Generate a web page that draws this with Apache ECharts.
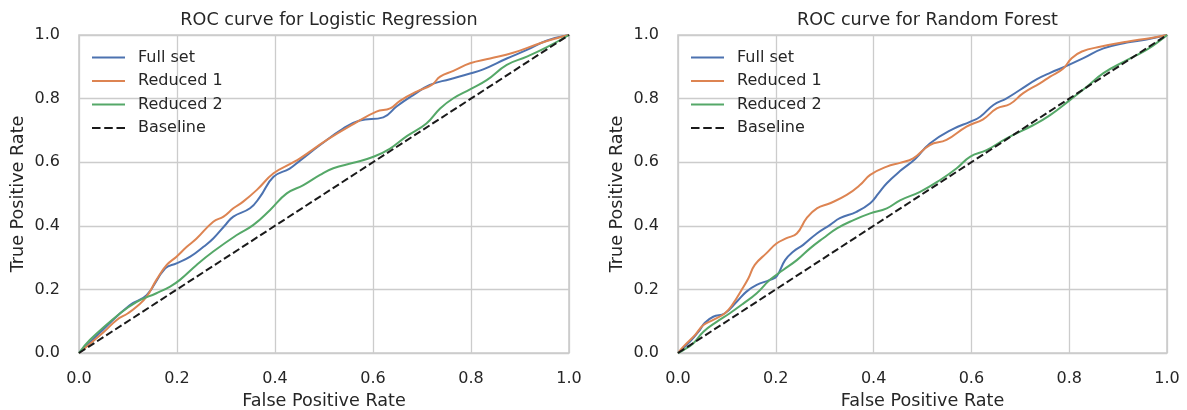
<!DOCTYPE html>
<html>
<head>
<meta charset="utf-8">
<script src="https://cdn.jsdelivr.net/npm/echarts@6/dist/echarts.min.js"></script>
<style>
  html, body { margin: 0; padding: 0; background: #ffffff; }
  #chart { width: 1187px; height: 410px; }
</style>
</head>
<body>
<div id="chart"></div>
<script>
// ---- Data (FPR, TPR pairs) ----
const titles = ['ROC curve for Logistic Regression', 'ROC curve for Random Forest'];
const seriesNames = ['Full set', 'Reduced 1', 'Reduced 2', 'Baseline'];
const xTicks = [0, 0.2, 0.4, 0.6, 0.8, 1.0];

const lrFull = [[0,0],[0.05,0.075],[0.104,0.151],[0.138,0.182],[0.176,0.266],[0.199,0.282],[0.227,0.303],[0.254,0.334],[0.274,0.36],[0.30,0.405],[0.315,0.429],[0.349,0.455],[0.369,0.49],[0.397,0.554],[0.43,0.58],[0.451,0.605],[0.492,0.654],[0.539,0.706],[0.573,0.731],[0.621,0.741],[0.648,0.775],[0.682,0.811],[0.716,0.843],[0.757,0.861],[0.798,0.879],[0.825,0.892],[0.873,0.926],[0.914,0.953],[0.954,0.982],[1,1]];
const lrRed1 = [[0,0],[0.05,0.065],[0.077,0.104],[0.10,0.125],[0.118,0.146],[0.138,0.177],[0.158,0.23],[0.179,0.277],[0.199,0.303],[0.22,0.334],[0.24,0.36],[0.274,0.413],[0.295,0.429],[0.315,0.455],[0.335,0.476],[0.363,0.513],[0.397,0.565],[0.433,0.596],[0.451,0.612],[0.506,0.67],[0.56,0.72],[0.607,0.759],[0.635,0.769],[0.655,0.793],[0.689,0.822],[0.72,0.843],[0.737,0.869],[0.764,0.887],[0.798,0.911],[0.839,0.926],[0.886,0.944],[0.941,0.974],[0.975,0.99],[1,1]];
const lrRed2 = [[0,0],[0.022,0.041],[0.084,0.125],[0.118,0.161],[0.158,0.188],[0.186,0.209],[0.206,0.23],[0.24,0.277],[0.274,0.319],[0.322,0.371],[0.356,0.403],[0.39,0.45],[0.424,0.502],[0.458,0.528],[0.492,0.56],[0.519,0.581],[0.56,0.598],[0.601,0.617],[0.635,0.643],[0.669,0.682],[0.709,0.722],[0.737,0.769],[0.764,0.801],[0.798,0.829],[0.832,0.858],[0.873,0.906],[0.914,0.932],[0.954,0.961],[1,1]];

const rfFull = [[0,0],[0.0245,0.036],[0.042,0.067],[0.055,0.095],[0.072,0.114],[0.096,0.125],[0.12,0.161],[0.14,0.193],[0.161,0.214],[0.188,0.23],[0.202,0.242],[0.219,0.292],[0.236,0.319],[0.256,0.34],[0.284,0.376],[0.311,0.403],[0.331,0.424],[0.365,0.444],[0.393,0.471],[0.41,0.502],[0.427,0.534],[0.454,0.572],[0.485,0.61],[0.515,0.659],[0.563,0.705],[0.597,0.727],[0.618,0.743],[0.645,0.78],[0.672,0.801],[0.699,0.827],[0.734,0.861],[0.761,0.881],[0.795,0.903],[0.829,0.927],[0.87,0.958],[0.918,0.976],[0.958,0.986],[1,1]];
const rfRed1 = [[0,0],[0.011,0.02],[0.035,0.057],[0.052,0.088],[0.072,0.104],[0.096,0.125],[0.113,0.156],[0.13,0.198],[0.144,0.235],[0.157,0.277],[0.181,0.314],[0.202,0.345],[0.222,0.361],[0.243,0.376],[0.263,0.424],[0.284,0.455],[0.311,0.471],[0.345,0.497],[0.372,0.528],[0.393,0.56],[0.427,0.586],[0.454,0.598],[0.481,0.612],[0.515,0.654],[0.549,0.67],[0.59,0.712],[0.624,0.735],[0.652,0.769],[0.679,0.783],[0.706,0.817],[0.74,0.848],[0.761,0.869],[0.788,0.895],[0.805,0.927],[0.826,0.948],[0.863,0.963],[0.918,0.979],[0.965,0.99],[1,1]];
const rfRed2 = [[0,0],[0.011,0.009],[0.031,0.03],[0.052,0.067],[0.079,0.098],[0.106,0.125],[0.134,0.156],[0.161,0.188],[0.188,0.23],[0.215,0.261],[0.243,0.292],[0.27,0.329],[0.297,0.361],[0.325,0.392],[0.359,0.418],[0.393,0.439],[0.427,0.455],[0.454,0.48],[0.495,0.507],[0.536,0.544],[0.57,0.581],[0.597,0.617],[0.631,0.638],[0.672,0.675],[0.727,0.717],[0.761,0.748],[0.802,0.796],[0.836,0.837],[0.87,0.88],[0.918,0.921],[0.958,0.953],[0.992,0.99],[1,1]];

const baseline = [[0,0],[1,1]];

// ---- Styling ----
const FONT = 'DejaVu Sans';
const TEXT = '#262626';
const GRIDC = '#cccccc';
const colors = ['#4c72b0', '#dd8452', '#55a868', '#1a1a1a'];
const solidIcon = 'path://M0,0H33V2H0Z';
const dashIcon = 'path://M0,0H8V2H0Z M11.5,0H19.5V2H11.5Z M23,0H31V2H23Z';

const gridBoxes = [
  { left: 79, top: 35, width: 490, height: 318 },
  { left: 678, top: 35, width: 489, height: 318 }
];

function xAxisFor(i) {
  return {
    gridIndex: i, type: 'value', min: 0, max: 1, interval: 0.2,
    axisLine: { show: false }, axisTick: { show: false },
    splitLine: { show: true, lineStyle: { color: GRIDC, width: 1.3 } },
    axisLabel: { color: TEXT, fontFamily: FONT, fontSize: 16, margin: 18,
      formatter: v => v.toFixed(1) },
    name: 'False Positive Rate', nameLocation: 'middle', nameGap: 39,
    nameTextStyle: { color: TEXT, fontFamily: FONT, fontSize: 17.6 }
  };
}
function yAxisFor(i) {
  return {
    gridIndex: i, type: 'value', min: 0, max: 1, interval: 0.2,
    axisLine: { show: false }, axisTick: { show: false },
    splitLine: { show: true, lineStyle: { color: GRIDC, width: 1.3 } },
    axisLabel: { color: TEXT, fontFamily: FONT, fontSize: 16, margin: 19,
      formatter: v => v.toFixed(1) },
    name: 'True Positive Rate', nameLocation: 'middle', nameGap: 52,
    nameTextStyle: { color: TEXT, fontFamily: FONT, fontSize: 17.6 }
  };
}

const panels = [
  [lrFull, lrRed1, lrRed2, baseline],
  [rfFull, rfRed1, rfRed2, baseline]
];

const series = [];
panels.forEach((sets, gi) => {
  sets.forEach((data, si) => {
    const isBase = si === 3;
    series.push({
      type: 'line', name: seriesNames[si],
      xAxisIndex: gi, yAxisIndex: gi,
      data: data,
      symbol: 'none', showSymbol: false,
      smooth: isBase ? false : 0.45,
      z: isBase ? 5 : 3,
      lineStyle: { color: colors[si], width: 2, type: isBase ? [7.5, 3.3] : 'solid' },
      itemStyle: { color: colors[si] },
      emphasis: { disabled: true }
    });
  });
});

const option = {
  animation: false,
  backgroundColor: '#ffffff',
  title: titles.map((t, i) => ({
    text: t,
    left: gridBoxes[i].left + gridBoxes[i].width / 2,
    textAlign: 'center',
    top: 6,
    textStyle: { color: TEXT, fontFamily: FONT, fontSize: 17.6, fontWeight: 'normal' }
  })),
  grid: gridBoxes.map(g => Object.assign({
    show: true, borderColor: GRIDC, borderWidth: 1.6, backgroundColor: 'transparent',
    containLabel: false, outerBoundsMode: 'none'
  }, g)),
  xAxis: [xAxisFor(0), xAxisFor(1)],
  yAxis: [yAxisFor(0), yAxisFor(1)],
  legend: gridBoxes.map(g => ({
    orient: 'vertical',
    left: g.left + 13, top: 49.5, padding: 0,
    itemWidth: 33, itemHeight: 16, itemGap: 7.5,
    data: seriesNames.map((n, k) => ({ name: n, icon: k === 3 ? dashIcon : solidIcon })),
    selectedMode: false,
    textStyle: { color: TEXT, fontFamily: FONT, fontSize: 16, lineHeight: 16, padding: [0, 0, 0, 8] }
  })),
  series: series
};

const chart = echarts.init(document.getElementById('chart'), null, { renderer: 'canvas' });
chart.setOption(option);
</script>
</body>
</html>
